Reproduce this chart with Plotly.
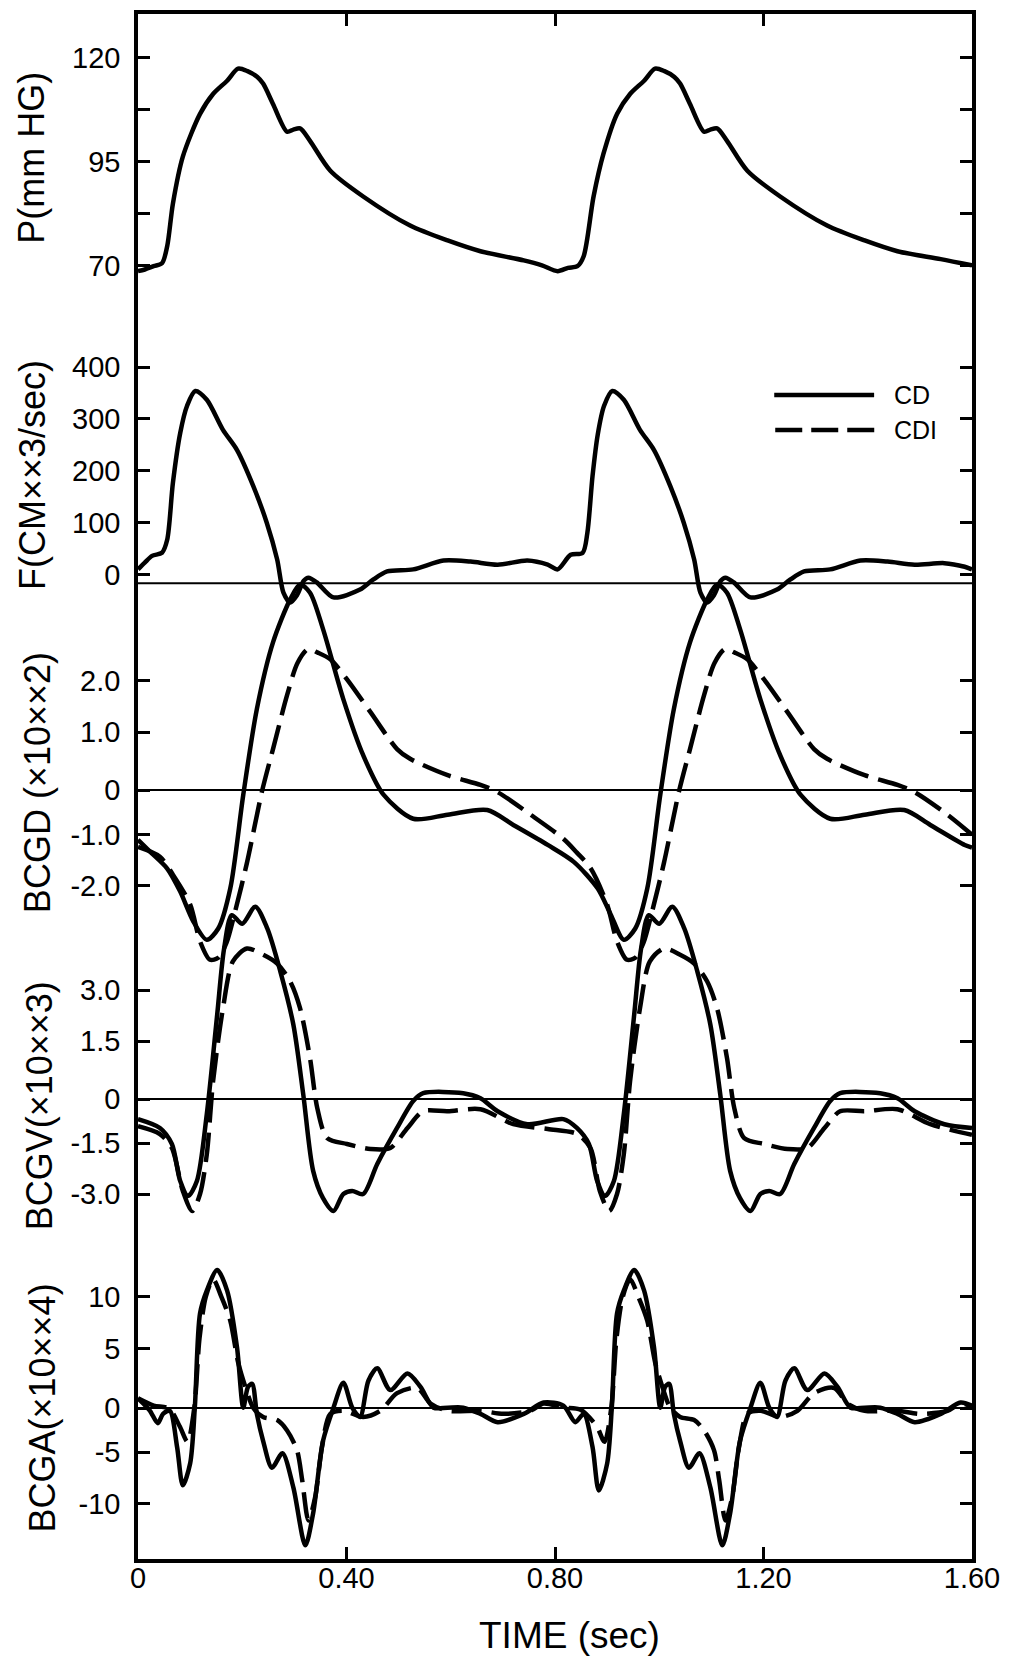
import plotly.graph_objects as go

# ---------------- data ----------------
x_ticks = [0, 0.4, 0.8, 1.2, 1.6]
x_ticktext = ["0", "0.40", "0.80", "1.20", "1.60"]

# Pressure P (mm HG)
t_p = [0.000, 0.013, 0.030, 0.046, 0.056, 0.067, 0.086, 0.119, 0.144, 0.171,
       0.192, 0.210, 0.229, 0.240, 0.259, 0.286, 0.298, 0.311, 0.330, 0.369,
       0.432, 0.522, 0.594, 0.657, 0.740, 0.775, 0.805, 0.825, 0.843, 0.855,
       0.874, 0.893, 0.919, 0.944, 0.971, 0.992, 1.010, 1.029, 1.040, 1.059,
       1.086, 1.098, 1.111, 1.130, 1.169, 1.232, 1.322, 1.394, 1.457, 1.540, 1.600]
p_val = [68.6, 69.0, 69.8, 70.5, 74.6, 84.9, 96.2, 106.5, 111.3, 114.5,
         117.4, 116.8, 115.4, 113.8, 108.9, 102.2, 102.7, 103.0, 100.0, 92.8,
         86.6, 79.6, 76.0, 73.4, 71.2, 70.0, 68.6, 69.4, 69.8, 72.2,
         86.6, 96.9, 106.5, 111.3, 114.5, 117.4, 116.8, 115.4, 113.8, 108.9,
         102.2, 102.7, 103.0, 100.0, 92.8, 86.6, 79.6, 76.0, 73.4, 71.5, 70.0]

# Flow F (CM**3/sec)
t_f = [0.000, 0.013, 0.027, 0.046, 0.056, 0.067, 0.081, 0.094, 0.110, 0.132,
       0.163, 0.190, 0.221, 0.247, 0.267, 0.279, 0.292, 0.305, 0.318, 0.327,
       0.343, 0.375, 0.426, 0.451, 0.478, 0.528, 0.586, 0.638, 0.690, 0.747,
       0.786, 0.805, 0.830, 0.853, 0.862, 0.872, 0.882, 0.894, 0.910, 0.932,
       0.963, 0.990, 1.021, 1.047, 1.067, 1.079, 1.092, 1.105, 1.118, 1.127,
       1.143, 1.175, 1.226, 1.251, 1.278, 1.328, 1.386, 1.438, 1.490, 1.547,
       1.586, 1.600]
f_val = [10, 23, 36, 42, 67, 177, 273, 325, 354, 337,
         279, 240, 171, 100, 29, -35, -54, -40, -12, -6,
         -15, -44, -29, -10, 6, 10, 27, 25, 19, 27,
         19, 10, 38, 42, 80, 190, 270, 325, 354, 337,
         279, 240, 171, 100, 29, -35, -54, -40, -12, -6,
         -15, -44, -29, -10, 6, 10, 27, 25, 19, 22,
         15, 10]

# BCGD (x10**2)
t_d_cd = [0.000, 0.023, 0.056, 0.081, 0.106, 0.132, 0.154, 0.177, 0.202, 0.228,
          0.259, 0.292, 0.311, 0.330, 0.355, 0.394, 0.432, 0.471, 0.528, 0.594,
          0.670, 0.720, 0.786, 0.836, 0.882, 0.907, 0.932, 0.954, 0.977, 1.002,
          1.028, 1.059, 1.092, 1.111, 1.130, 1.155, 1.194, 1.232, 1.271, 1.328,
          1.394, 1.470, 1.520, 1.586, 1.600]
d_cd = [-1.10, -1.33, -1.66, -2.11, -2.69, -3.05, -2.83, -2.05, -0.22, 1.45,
        2.75, 3.59, 3.88, 3.72, 3.01, 1.64, 0.55, -0.22, -0.69, -0.61,
        -0.52, -0.81, -1.20, -1.53, -2.05, -2.56, -3.05, -2.83, -2.05, -0.22,
        1.45, 2.75, 3.59, 3.88, 3.72, 3.01, 1.64, 0.55, -0.22, -0.69,
        -0.61, -0.52, -0.81, -1.20, -1.25]
t_d_cdi = [0.000, 0.042, 0.067, 0.100, 0.119, 0.138, 0.154, 0.170, 0.185, 0.209,
           0.238, 0.259, 0.286, 0.306, 0.326, 0.345, 0.369, 0.401, 0.446, 0.497,
           0.522, 0.594, 0.657, 0.690, 0.753, 0.816, 0.842, 0.868, 0.900, 0.919,
           0.938, 0.954, 0.970, 0.985, 1.009, 1.038, 1.059, 1.086, 1.106, 1.126,
           1.145, 1.169, 1.201, 1.246, 1.297, 1.322, 1.394, 1.457, 1.490, 1.553, 1.600]
d_cdi = [-1.24, -1.43, -1.78, -2.36, -3.08, -3.44, -3.40, -3.10, -2.55, -1.55,
         -0.15, 0.67, 1.72, 2.35, 2.62, 2.55, 2.42, 2.03, 1.39, 0.67,
         0.48, 0.16, -0.03, -0.17, -0.61, -1.08, -1.35, -1.65, -2.36, -3.08,
         -3.44, -3.40, -3.10, -2.55, -1.55, -0.15, 0.67, 1.72, 2.35, 2.62,
         2.55, 2.42, 2.03, 1.39, 0.67, 0.48, 0.16, -0.03, -0.17, -0.61, -1.00]

# BCGV (x10**3)
t_v_cd = [0.000, 0.042, 0.065, 0.081, 0.096, 0.113, 0.132, 0.152, 0.165, 0.180,
          0.200, 0.225, 0.248, 0.273, 0.298, 0.317, 0.336, 0.355, 0.375, 0.394,
          0.411, 0.432, 0.459, 0.497, 0.528, 0.547, 0.624, 0.657, 0.690, 0.747,
          0.816,
          0.842, 0.865, 0.881, 0.896, 0.913, 0.932, 0.952, 0.965, 0.980, 1.000,
          1.025, 1.048, 1.073, 1.098, 1.117, 1.136, 1.155, 1.175, 1.194, 1.211,
          1.232, 1.259, 1.297, 1.328, 1.347, 1.424, 1.457, 1.490, 1.547, 1.600]
v_cd = [-0.79, -1.05, -1.52, -2.61, -3.05, -2.61, -0.64, 2.29, 4.20, 5.20,
        4.95, 5.45, 4.81, 3.55, 1.99, -0.06, -2.31, -3.11, -3.49, -2.99,
        -2.90, -2.99, -2.11, -1.05, -0.26, -0.03, -0.03, -0.18, -0.56, -0.94,
        -0.79,
        -1.05, -1.52, -2.61, -3.05, -2.61, -0.64, 2.29, 4.20, 5.20, 4.95,
        5.45, 4.81, 3.55, 1.99, -0.06, -2.31, -3.11, -3.49, -2.99, -2.90,
        -2.99, -2.11, -1.05, -0.26, -0.03, -0.03, -0.18, -0.56, -0.94, -1.05]
t_v_cdi = [0.000, 0.042, 0.065, 0.086, 0.104, 0.119, 0.132, 0.144, 0.163, 0.182,
           0.209, 0.240, 0.267, 0.292, 0.311, 0.330, 0.344, 0.363, 0.401, 0.446,
           0.484, 0.517, 0.547, 0.594, 0.657, 0.720, 0.786,
           0.843, 0.868, 0.886, 0.904, 0.919, 0.932, 0.944, 0.963, 0.982, 1.009,
           1.040, 1.067, 1.092, 1.111, 1.130, 1.144, 1.163, 1.201, 1.246, 1.284,
           1.317, 1.347, 1.394, 1.457, 1.520, 1.600]
v_cdi = [-1.00, -1.23, -1.64, -2.90, -3.49, -2.99, -1.82, 0.32, 2.46, 3.84,
         4.22, 4.04, 3.78, 3.25, 2.46, 1.00, -0.47, -1.35, -1.52, -1.67,
         -1.64, -1.05, -0.56, -0.56, -0.50, -0.94, -1.08,
         -1.23, -1.64, -2.90, -3.49, -2.99, -1.82, 0.32, 2.46, 3.84, 4.22,
         4.04, 3.78, 3.25, 2.46, 1.00, -0.47, -1.35, -1.52, -1.67, -1.64,
         -1.05, -0.56, -0.56, -0.50, -0.94, -1.25]

# BCGA (x10**4)
t_a_cd = [0.000, 0.010, 0.023, 0.038, 0.048, 0.061, 0.075, 0.086, 0.100, 0.109,
          0.119, 0.132, 0.152, 0.171, 0.190, 0.202, 0.211, 0.219, 0.228, 0.240,
          0.257, 0.277, 0.298, 0.321, 0.336, 0.355, 0.375, 0.394, 0.411, 0.426,
          0.442, 0.459, 0.484, 0.517, 0.542, 0.567, 0.594, 0.624, 0.657, 0.690,
          0.740, 0.778, 0.816,
          0.839, 0.855, 0.872, 0.884, 0.900, 0.909, 0.919, 0.932, 0.952, 0.971,
          0.990, 1.002, 1.011, 1.019, 1.028, 1.040, 1.057, 1.077, 1.098, 1.121,
          1.136, 1.155, 1.175, 1.194, 1.211, 1.226, 1.242, 1.259, 1.284, 1.317,
          1.342, 1.367, 1.394, 1.424, 1.457, 1.490, 1.540, 1.578, 1.600]
a_cd = [0.2, -0.3, -1.0, -2.2, -1.3, -1.0, -4.5, -8.2, -6.1, -0.7,
        8.4, 10.6, 12.6, 10.6, 5.1, -0.7, 1.3, 1.6, -1.3, -3.9,
        -6.5, -5.1, -8.4, -14.0, -10.9, -3.9, -0.7, 1.7, -0.7, -1.6,
        1.9, 3.1, 1.0, 2.6, 1.3, -0.7, -0.7, -0.7, -1.3, -2.1,
        -1.3, -0.2, -0.5,
        -2.1, -1.3, -4.5, -8.7, -6.1, -0.7, 8.4, 10.6, 12.6, 10.6,
        5.1, -0.7, 1.3, 1.6, -1.3, -3.9, -6.5, -5.1, -8.4, -14.0,
        -10.9, -3.9, -0.7, 1.7, -0.7, -1.6, 1.9, 3.1, 1.0, 2.6,
        1.3, -0.7, -0.7, -0.7, -1.3, -2.1, -1.3, -0.2, -0.5]
t_a_cdi = [0.000, 0.030, 0.060, 0.080, 0.095, 0.108, 0.118, 0.130, 0.144, 0.160,
           0.177, 0.192, 0.206, 0.221, 0.240, 0.267, 0.286, 0.305, 0.315, 0.327,
           0.340, 0.353, 0.369, 0.394, 0.432, 0.465, 0.497, 0.536, 0.561, 0.594,
           0.657, 0.701, 0.753, 0.778, 0.816,
           0.849, 0.880, 0.895, 0.908, 0.918, 0.930, 0.944, 0.960, 0.977, 0.992,
           1.006, 1.021, 1.040, 1.067, 1.086, 1.105, 1.115, 1.127, 1.140, 1.153,
           1.169, 1.194, 1.232, 1.265, 1.297, 1.336, 1.361, 1.394, 1.457, 1.501,
           1.553, 1.578, 1.600]
a_cdi = [0.2, -0.5, -0.8, -2.5, -4.0, -0.7, 6.0, 10.0, 11.7, 10.0,
         7.7, 3.7, 1.3, -0.7, -1.6, -1.9, -2.9, -4.8, -7.7, -11.6,
         -9.3, -4.5, -1.3, -1.0, -1.6, -1.0, 0.7, 1.2, -0.3, -1.0,
         -1.0, -1.3, -1.0, -0.3, -0.7,
         -0.9, -2.5, -4.0, -0.7, 6.0, 10.0, 11.7, 10.0, 7.7, 3.7,
         1.3, -0.7, -1.6, -1.9, -2.9, -4.8, -7.7, -11.6, -9.3, -4.5,
         -1.3, -1.0, -1.6, -1.0, 0.7, 1.2, -0.3, -1.0, -1.0, -1.3,
         -1.0, -0.3, -0.6]

# level of the drawn zero lines (in each axis' units, as read)
F_ZERO_LINE = -17
BCGD_ZERO_LINE = -0.13
BCGV_ZERO_LINE = -0.2
BCGA_ZERO_LINE = -0.74

# tick labels
p_ticks = [120, 107.5, 95, 82.5, 70]
p_ticktext = ["120", "", "95", "", "70"]
f_ticks = [400, 300, 200, 100, 0]
f_ticktext = ["400", "300", "200", "100", "0"]
d_ticks = [2.0, 1.0, BCGD_ZERO_LINE, -1.0, -2.0]
d_ticktext = ["2.0", "1.0", "0", "-1.0", "-2.0"]
v_ticks = [3.0, 1.5, BCGV_ZERO_LINE, -1.5, -3.0]
v_ticktext = ["3.0", "1.5", "0", "-1.5", "-3.0"]
a_ticks = [10, 5, BCGA_ZERO_LINE, -5, -10]
a_ticktext = ["10", "5", "0", "-5", "-10"]

titles = ["P(mm HG)", "F(CM××3/sec)", "BCGD (×10××2)", "BCGV(×10××3)", "BCGA(×10××4)"]

# ---------------- layout geometry (pixels) ----------------
W, H = 1010, 1657
L, R, T, B = 138, 973, 10, 1559


def yrange(v1, p1, v2, p2):
    s = (p2 - p1) / (v1 - v2)
    return [v1 - (B - p1) / s, v1 + (p1 - T) / s]


def px_x(px):
    return (px - L) / (R - L)


def px_y(py):
    return (B - py) / (B - T)


FONT = "Liberation Sans"
BLACK = "black"
DASH = "30px,10px"

fig = go.Figure()
solid = dict(color=BLACK, width=4.5, shape="spline", smoothing=0.8)
dashed = dict(color=BLACK, width=4.5, shape="spline", smoothing=0.8, dash=DASH)

series = [
    (t_p, p_val, "y", solid),
    (t_f, f_val, "y2", solid),
    (t_d_cd, d_cd, "y3", solid),
    (t_d_cdi, d_cdi, "y3", dashed),
    (t_v_cd, v_cd, "y4", solid),
    (t_v_cdi, v_cdi, "y4", dashed),
    (t_a_cd, a_cd, "y5", solid),
    (t_a_cdi, a_cdi, "y5", dashed),
]
for xs, ys, ya, ln in series:
    fig.add_trace(go.Scatter(x=xs, y=ys, yaxis=ya, mode="lines", line=ln,
                             showlegend=False, hoverinfo="skip"))

axis_common = dict(
    showline=True, linecolor=BLACK, linewidth=3.5, mirror="ticks",
    ticks="inside", ticklen=12, tickwidth=3, tickcolor=BLACK,
    showgrid=False, zeroline=False,
    tickfont=dict(family=FONT, size=29, color=BLACK),
    tickmode="array",
)

yaxes = {
    "yaxis": dict(range=yrange(120, 54, 70, 262), tickvals=p_ticks, ticktext=p_ticktext),
    "yaxis2": dict(range=yrange(400, 364, 0, 572), tickvals=f_ticks, ticktext=f_ticktext),
    "yaxis3": dict(range=yrange(2.0, 678.6, -2.0, 884.2), tickvals=d_ticks, ticktext=d_ticktext),
    "yaxis4": dict(range=yrange(3.0, 988.6, -3.0, 1193.4), tickvals=v_ticks, ticktext=v_ticktext),
    "yaxis5": dict(range=yrange(10, 1296.2, -10, 1503.8), tickvals=a_ticks, ticktext=a_ticktext),
}
for i, (name, cfg) in enumerate(yaxes.items()):
    cfg.update(axis_common)
    cfg.update(domain=[0, 1], anchor="x", side="left", ticklabelstandoff=8)
    if i > 0:
        cfg.update(overlaying="y")
    fig.update_layout({name: cfg})

fig.update_layout(
    xaxis=dict(range=[0, 1.6], tickvals=x_ticks, ticktext=x_ticktext,
               domain=[0, 1], anchor="y", ticklabelstandoff=-10, **axis_common),
)

# zero lines
shapes = []
for yref, lvl in [("y2", F_ZERO_LINE), ("y3", BCGD_ZERO_LINE),
                  ("y4", BCGV_ZERO_LINE), ("y5", BCGA_ZERO_LINE)]:
    shapes.append(dict(type="line", xref="x", yref=yref, x0=0, x1=1.6,
                       y0=lvl, y1=lvl, line=dict(color=BLACK, width=2)))

# legend samples
shapes.append(dict(type="line", xref="paper", yref="paper",
                   x0=px_x(775), x1=px_x(875), y0=px_y(392), y1=px_y(392),
                   line=dict(color=BLACK, width=4.5)))
shapes.append(dict(type="line", xref="paper", yref="paper",
                   x0=px_x(776), x1=px_x(876), y0=px_y(427), y1=px_y(427),
                   line=dict(color=BLACK, width=4.5, dash="27px,9px")))

annotations = []
for txt, py in [("CD", 392), ("CDI", 427)]:
    annotations.append(dict(text=txt, xref="paper", yref="paper", x=px_x(893), y=px_y(py),
                            xanchor="left", yanchor="middle", showarrow=False,
                            font=dict(family=FONT, size=25, color=BLACK)))

title_pos = [(31, 154), (33, 472), (37, 781), (39, 1105), (42, 1408)]
for txt, (px, py) in zip(titles, title_pos):
    annotations.append(dict(text=txt, xref="paper", yref="paper", x=px_x(px), y=px_y(py),
                            xanchor="center", yanchor="middle", textangle=-90,
                            showarrow=False,
                            font=dict(family=FONT, size=36, color=BLACK)))

annotations.append(dict(text="TIME (sec)", xref="paper", yref="paper",
                        x=px_x(570), y=px_y(1636), xanchor="center", yanchor="middle",
                        showarrow=False, font=dict(family=FONT, size=37, color=BLACK)))

fig.update_layout(
    width=W, height=H, autosize=False,
    margin=dict(l=L, r=W - R, t=T, b=H - B, pad=0),
    paper_bgcolor="white", plot_bgcolor="white",
    shapes=shapes, annotations=annotations, showlegend=False,
)

fig.write_html("out.html")
